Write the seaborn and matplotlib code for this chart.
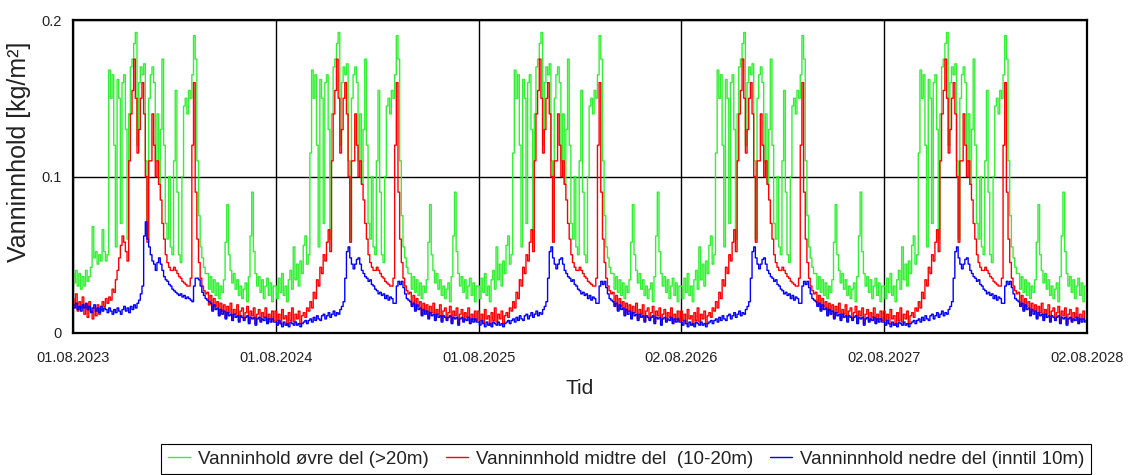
import numpy as np
import pandas as pd
import matplotlib
matplotlib.use("Agg")
import matplotlib.pyplot as plt
import seaborn as sns
from matplotlib.lines import Line2D

# ---------------- data (values in 0.001 kg/m², one value per ~3 days) ----------------
tick_labels = ["01.08.2023", "01.08.2024", "01.08.2025", "02.08.2026", "02.08.2027", "02.08.2028"]
series_names = ["Vanninhold øvre del (>20m)",
                "Vanninnhold midtre del  (10-20m)",
                "Vanninnhold nedre del (inntil 10m)"]
series_colors = ["#33f033", "#ff0000", "#0000ff"]
total_days = 1828

green_2023 = [38, 32, 40, 30, 38, 28, 36, 30, 40, 33, 36, 42, 68, 48, 52, 44, 50, 46, 66, 52,
              46, 50, 168, 150, 165, 120, 55, 162, 150, 70, 160, 165, 130, 60, 140, 170, 175, 185, 192, 120,
              160, 170, 165, 172, 110, 60, 150, 165, 170, 160, 110, 140, 95, 130, 175, 120, 70, 60, 100, 55,
              50, 110, 155, 90, 50, 45, 100, 145, 150, 140, 155, 150, 165, 190, 175, 110, 75, 55, 48, 42,
              38, 38, 28, 36, 26, 34, 24, 32, 22, 30, 26, 34, 58, 82, 50, 40, 32, 38, 28, 34,
              24, 30, 22, 28, 32, 20, 36, 62, 90, 52, 38, 30, 36, 26, 34, 22, 30, 35, 24, 32,
              20, 30]
green_2024 = [30, 22, 35, 26, 38, 24, 30, 20, 34, 40, 28, 55, 34, 44, 30, 46, 38, 56, 62, 44,
              50, 115, 168, 150, 165, 120, 55, 162, 150, 70, 160, 165, 130, 60, 140, 170, 175, 185, 192, 120,
              160, 170, 165, 172, 110, 60, 150, 165, 170, 160, 110, 140, 95, 130, 175, 120, 70, 60, 100, 55,
              50, 110, 155, 90, 50, 45, 100, 145, 150, 140, 155, 150, 165, 190, 175, 110, 75, 55, 48, 42,
              38, 38, 28, 36, 26, 34, 24, 32, 22, 30, 26, 34, 58, 82, 50, 40, 32, 38, 28, 34,
              24, 30, 22, 28, 32, 20, 36, 62, 90, 52, 38, 30, 36, 26, 34, 22, 30, 35, 24, 32,
              20, 30]
green_2025 = [30, 22, 35, 26, 38, 24, 30, 20, 34, 40, 28, 55, 34, 44, 30, 46, 38, 56, 62, 44,
              50, 115, 168, 150, 165, 120, 55, 162, 150, 70, 160, 165, 130, 60, 140, 170, 175, 185, 192, 120,
              160, 170, 165, 172, 110, 60, 150, 165, 170, 160, 110, 140, 95, 130, 175, 120, 70, 60, 100, 55,
              50, 110, 155, 90, 50, 45, 100, 145, 150, 140, 155, 150, 165, 190, 175, 110, 75, 55, 48, 42,
              38, 38, 28, 36, 26, 34, 24, 32, 22, 30, 26, 34, 58, 82, 50, 40, 32, 38, 28, 34,
              24, 30, 22, 28, 32, 20, 36, 62, 90, 52, 38, 30, 36, 26, 34, 22, 30, 35, 24, 32,
              20, 30]
green_2026 = [30, 22, 35, 26, 38, 24, 30, 20, 34, 40, 28, 55, 34, 44, 30, 46, 38, 56, 62, 44,
              50, 115, 168, 150, 165, 120, 55, 162, 150, 70, 160, 165, 130, 60, 140, 170, 175, 185, 192, 120,
              160, 170, 165, 172, 110, 60, 150, 165, 170, 160, 110, 140, 95, 130, 175, 120, 70, 60, 100, 55,
              50, 110, 155, 90, 50, 45, 100, 145, 150, 140, 155, 150, 165, 190, 175, 110, 75, 55, 48, 42,
              38, 38, 28, 36, 26, 34, 24, 32, 22, 30, 26, 34, 58, 82, 50, 40, 32, 38, 28, 34,
              24, 30, 22, 28, 32, 20, 36, 62, 90, 52, 38, 30, 36, 26, 34, 22, 30, 35, 24, 32,
              20, 30]
green_2027 = [30, 22, 35, 26, 38, 24, 30, 20, 34, 40, 28, 55, 34, 44, 30, 46, 38, 56, 62, 44,
              50, 115, 168, 150, 165, 120, 55, 162, 150, 70, 160, 165, 130, 60, 140, 170, 175, 185, 192, 120,
              160, 170, 165, 172, 110, 60, 150, 165, 170, 160, 110, 140, 95, 130, 175, 120, 70, 60, 100, 55,
              50, 110, 155, 90, 50, 45, 100, 145, 150, 140, 155, 150, 165, 190, 175, 110, 75, 55, 48, 42,
              38, 38, 28, 36, 26, 34, 24, 32, 22, 30, 26, 34, 58, 82, 50, 40, 32, 38, 28, 34,
              24, 30, 22, 28, 32, 20, 36, 62, 90, 52, 38, 30, 36, 26, 34, 22, 30, 35, 24, 32,
              20, 30]

red_2023 = [22, 18, 25, 14, 20, 16, 23, 12, 18, 10, 20, 14, 9, 16, 11, 18, 12, 15, 20, 17,
            22, 19, 23, 21, 28, 26, 34, 40, 48, 56, 62, 58, 52, 46, 110, 140, 155, 175, 150, 115,
            130, 150, 160, 140, 100, 58, 110, 110, 140, 120, 100, 110, 95, 85, 70, 60, 50, 45, 42, 40,
            40, 42, 40, 38, 36, 35, 33, 32, 31, 30, 30, 35, 120, 160, 90, 60, 45, 35, 30, 27,
            25, 26, 18, 24, 15, 22, 17, 20, 12, 19, 14, 18, 10, 17, 13, 19, 9, 15, 12, 18,
            8, 14, 16, 9, 13, 17, 7, 14, 11, 16, 6, 12, 15, 8, 13, 10, 16, 7, 12, 9,
            14, 8]
red_2024 = [14, 8, 12, 6, 15, 9, 11, 5, 13, 8, 16, 7, 12, 9, 14, 6, 11, 13, 10, 16,
            14, 20, 16, 26, 22, 34, 30, 42, 38, 50, 46, 58, 66, 52, 110, 140, 155, 175, 150, 115,
            130, 150, 160, 140, 100, 58, 110, 110, 140, 120, 100, 110, 95, 85, 70, 60, 50, 45, 42, 40,
            40, 42, 40, 38, 36, 35, 33, 32, 31, 30, 30, 35, 120, 160, 90, 60, 45, 35, 30, 27,
            25, 26, 18, 24, 15, 22, 17, 20, 12, 19, 14, 18, 10, 17, 13, 19, 9, 15, 12, 18,
            8, 14, 16, 9, 13, 17, 7, 14, 11, 16, 6, 12, 15, 8, 13, 10, 16, 7, 12, 9,
            14, 8]
red_2025 = [14, 8, 12, 6, 15, 9, 11, 5, 13, 8, 16, 7, 12, 9, 14, 6, 11, 13, 10, 16,
            14, 20, 16, 26, 22, 34, 30, 42, 38, 50, 46, 58, 66, 52, 110, 140, 155, 175, 150, 115,
            130, 150, 160, 140, 100, 58, 110, 110, 140, 120, 100, 110, 95, 85, 70, 60, 50, 45, 42, 40,
            40, 42, 40, 38, 36, 35, 33, 32, 31, 30, 30, 35, 120, 160, 90, 60, 45, 35, 30, 27,
            25, 26, 18, 24, 15, 22, 17, 20, 12, 19, 14, 18, 10, 17, 13, 19, 9, 15, 12, 18,
            8, 14, 16, 9, 13, 17, 7, 14, 11, 16, 6, 12, 15, 8, 13, 10, 16, 7, 12, 9,
            14, 8]
red_2026 = [14, 8, 12, 6, 15, 9, 11, 5, 13, 8, 16, 7, 12, 9, 14, 6, 11, 13, 10, 16,
            14, 20, 16, 26, 22, 34, 30, 42, 38, 50, 46, 58, 66, 52, 110, 140, 155, 175, 150, 115,
            130, 150, 160, 140, 100, 58, 110, 110, 140, 120, 100, 110, 95, 85, 70, 60, 50, 45, 42, 40,
            40, 42, 40, 38, 36, 35, 33, 32, 31, 30, 30, 35, 120, 160, 90, 60, 45, 35, 30, 27,
            25, 26, 18, 24, 15, 22, 17, 20, 12, 19, 14, 18, 10, 17, 13, 19, 9, 15, 12, 18,
            8, 14, 16, 9, 13, 17, 7, 14, 11, 16, 6, 12, 15, 8, 13, 10, 16, 7, 12, 9,
            14, 8]
red_2027 = [14, 8, 12, 6, 15, 9, 11, 5, 13, 8, 16, 7, 12, 9, 14, 6, 11, 13, 10, 16,
            14, 20, 16, 26, 22, 34, 30, 42, 38, 50, 46, 58, 66, 52, 110, 140, 155, 175, 150, 115,
            130, 150, 160, 140, 100, 58, 110, 110, 140, 120, 100, 110, 95, 85, 70, 60, 50, 45, 42, 40,
            40, 42, 40, 38, 36, 35, 33, 32, 31, 30, 30, 35, 120, 160, 90, 60, 45, 35, 30, 27,
            25, 26, 18, 24, 15, 22, 17, 20, 12, 19, 14, 18, 10, 17, 13, 19, 9, 15, 12, 18,
            8, 14, 16, 9, 13, 17, 7, 14, 11, 16, 6, 12, 15, 8, 13, 10, 16, 7, 12, 9,
            14, 8]

blue_2023 = [18, 16, 19, 15, 17, 14, 18, 16, 19, 15, 17, 13, 16, 18, 14, 16, 13, 17, 14, 16,
             15, 13, 16, 14, 12, 15, 13, 16, 14, 12, 15, 17, 14, 16, 13, 17, 15, 18, 16, 19,
             21, 25, 30, 62, 71, 60, 55, 50, 46, 44, 40, 45, 48, 44, 40, 36, 34, 33, 31, 30,
             28, 27, 26, 25, 24, 25, 23, 24, 22, 23, 22, 21, 20, 30, 35, 35, 34, 30, 26, 24,
             22, 21, 20, 19, 14, 18, 15, 16, 11, 15, 12, 14, 9, 13, 11, 12, 8, 12, 10, 11,
             7, 11, 10, 8, 10, 11, 6, 10, 9, 10, 5, 9, 10, 7, 9, 8, 10, 6, 9, 7,
             9, 7]
blue_2024 = [7, 5, 8, 6, 4, 7, 5, 6, 4, 7, 6, 5, 7, 5, 6, 4, 6, 7, 8, 6,
             8, 9, 7, 10, 8, 11, 9, 8, 11, 12, 9, 11, 13, 10, 12, 14, 11, 13, 12, 15,
             17, 20, 35, 52, 55, 48, 44, 41, 44, 47, 48, 44, 40, 38, 36, 35, 33, 34, 31, 30,
             28, 27, 25, 26, 24, 25, 22, 24, 21, 23, 22, 19, 19, 30, 33, 31, 33, 29, 25, 22,
             21, 20, 17, 19, 14, 18, 15, 16, 11, 15, 12, 14, 9, 13, 11, 12, 8, 12, 10, 11,
             7, 11, 10, 8, 10, 11, 6, 10, 9, 10, 5, 9, 10, 7, 9, 8, 10, 6, 9, 7,
             9, 7]
blue_2025 = [7, 5, 8, 6, 4, 7, 5, 6, 4, 7, 6, 5, 7, 5, 6, 4, 6, 7, 8, 6,
             8, 9, 7, 10, 8, 11, 9, 8, 11, 12, 9, 11, 13, 10, 12, 14, 11, 13, 12, 15,
             17, 20, 35, 52, 55, 48, 44, 41, 44, 47, 48, 44, 40, 38, 36, 35, 33, 34, 31, 30,
             28, 27, 25, 26, 24, 25, 22, 24, 21, 23, 22, 19, 19, 30, 33, 31, 33, 29, 25, 22,
             21, 20, 17, 19, 14, 18, 15, 16, 11, 15, 12, 14, 9, 13, 11, 12, 8, 12, 10, 11,
             7, 11, 10, 8, 10, 11, 6, 10, 9, 10, 5, 9, 10, 7, 9, 8, 10, 6, 9, 7,
             9, 7]
blue_2026 = [7, 5, 8, 6, 4, 7, 5, 6, 4, 7, 6, 5, 7, 5, 6, 4, 6, 7, 8, 6,
             8, 9, 7, 10, 8, 11, 9, 8, 11, 12, 9, 11, 13, 10, 12, 14, 11, 13, 12, 15,
             17, 20, 35, 52, 55, 48, 44, 41, 44, 47, 48, 44, 40, 38, 36, 35, 33, 34, 31, 30,
             28, 27, 25, 26, 24, 25, 22, 24, 21, 23, 22, 19, 19, 30, 33, 31, 33, 29, 25, 22,
             21, 20, 17, 19, 14, 18, 15, 16, 11, 15, 12, 14, 9, 13, 11, 12, 8, 12, 10, 11,
             7, 11, 10, 8, 10, 11, 6, 10, 9, 10, 5, 9, 10, 7, 9, 8, 10, 6, 9, 7,
             9, 7]
blue_2027 = [7, 5, 8, 6, 4, 7, 5, 6, 4, 7, 6, 5, 7, 5, 6, 4, 6, 7, 8, 6,
             8, 9, 7, 10, 8, 11, 9, 8, 11, 12, 9, 11, 13, 10, 12, 14, 11, 13, 12, 15,
             17, 20, 35, 52, 55, 48, 44, 41, 44, 47, 48, 44, 40, 38, 36, 35, 33, 34, 31, 30,
             28, 27, 25, 26, 24, 25, 22, 24, 21, 23, 22, 19, 19, 30, 33, 31, 33, 29, 25, 22,
             21, 20, 17, 19, 14, 18, 15, 16, 11, 15, 12, 14, 9, 13, 11, 12, 8, 12, 10, 11,
             7, 11, 10, 8, 10, 11, 6, 10, 9, 10, 5, 9, 10, 7, 9, 8, 10, 6, 9, 7,
             9, 7]

green = green_2023 + green_2024 + green_2025 + green_2026 + green_2027
red = red_2023 + red_2024 + red_2025 + red_2026 + red_2027
blue = blue_2023 + blue_2024 + blue_2025 + blue_2026 + blue_2027

# ---------------- build long table ----------------
n = len(green)
days = np.arange(n) * (total_days / n)
df = pd.DataFrame({
    "Tid": np.concatenate([days, days, days]),
    "verdi": np.array(green + red + blue, dtype=float) / 1000.0,
    "serie": [series_names[0]] * n + [series_names[1]] * n + [series_names[2]] * n,
})

sns.set_theme(style="white")
plt.rcParams["font.family"] = ["Liberation Sans", "DejaVu Sans"]

fig = plt.figure(figsize=(11.31, 4.75), dpi=100)
W, H = 1131, 475
ax = fig.add_axes([73 / W, 1 - 333 / H, (1087 - 73) / W, (333 - 20) / H])

sns.lineplot(data=df, x="Tid", y="verdi", hue="serie", hue_order=series_names,
             palette=series_colors, estimator=None, sort=False, linewidth=1.0,
             drawstyle="steps-mid", legend=False, ax=ax)

ax.set_xlim(0, total_days)
ax.set_ylim(0, 0.2)
ax.set_xticks(np.linspace(0, total_days, len(tick_labels)))
ax.set_xticklabels(tick_labels, fontsize=10.5, color="#222222")
ax.set_yticks([0, 0.1, 0.2])
ax.set_yticklabels(["0", "0.1", "0.2"], fontsize=10.5, color="#222222")
ax.tick_params(axis="x", direction="out", length=3, width=1, color="black", pad=10)
ax.tick_params(axis="y", direction="out", length=3, width=1, color="black", pad=5)
ax.grid(True, color="black", linewidth=1.0)
for sp in ax.spines.values():
    sp.set_color("black")
    sp.set_linewidth(1.6)

ax.set_xlabel("Tid", fontsize=15, color="#222222", labelpad=10)
ax.set_ylabel("Vanninnhold [kg/m²]", fontsize=18, color="#222222")
ax.yaxis.set_label_coords((31 - 73) / 1014, (333 - 152) / 313)

handles = [Line2D([0], [0], color=c, linewidth=1.0) for c in series_colors]
leg = fig.legend(handles=handles, labels=series_names, ncol=3, loc="center",
                 bbox_to_anchor=(626 / W, 1 - 459 / H), frameon=True, fancybox=False,
                 edgecolor="black", framealpha=1, fontsize=13.5, handlelength=1.2,
                 handletextpad=0.4, columnspacing=0.9, borderpad=0.35)
leg.get_frame().set_linewidth(0.8)
for t in leg.get_texts():
    t.set_color("#222222")

fig.savefig("out.png", dpi=100)
